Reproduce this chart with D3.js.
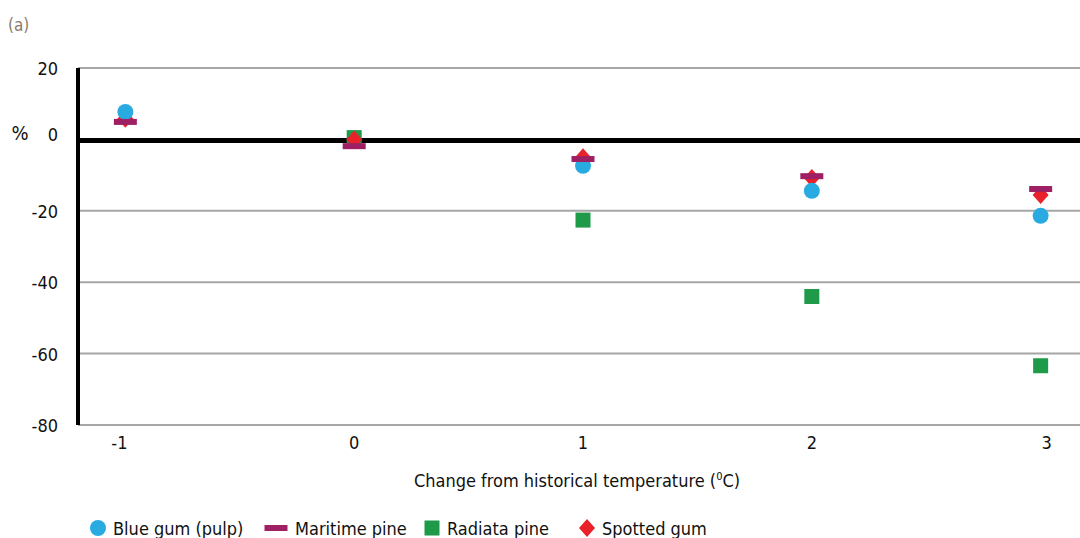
<!DOCTYPE html>
<html>
<head>
<meta charset="utf-8">
<script src="https://cdn.jsdelivr.net/npm/d3@7"></script>
<style>
  body { margin: 0; background: #fff; }
  svg { display: block; }
  text { font-family: "Liberation Sans Narrow", "DejaVu Sans Condensed", sans-serif; }
</style>
</head>
<body>
<svg id="chart" width="1080" height="538"></svg>
<script>
// temperature change steps (degC)
var temps = [-1, 0, 1, 2, 3];
// % change in productivity (null = not shown)
var blueGum = [7.7, null, -7.4, -14.4, -21.4];
var maritimePine = [4.9, -1.9, -5.5, -10.3, -13.9];
var radiataPine = [null, 0.5, -22.6, -44, -63.4];
var spottedGum = [5.8, 0, -5, -10.8, -15.6];
var yTicks = [20, 0, -20, -40, -60, -80];

var series = [
    { name: "Radiata pine", values: radiataPine, color: "#1f9a48", shape: "square" },
    { name: "Spotted gum", values: spottedGum, color: "#e8212b", shape: "diamond" },
    { name: "Blue gum (pulp)", values: blueGum, color: "#29abe2", shape: "circle" },
    { name: "Maritime pine", values: maritimePine, color: "#9e1f63", shape: "dash" }
];
var legendOrder = ["Blue gum (pulp)", "Maritime pine", "Radiata pine", "Spotted gum"];

var svg = d3.select("#chart");
var plotLeft = 78, plotRight = 1080, plotTop = 68, plotBottom = 425;

var x = d3.scaleLinear().domain([-1.207, 3.172]).range([plotLeft, plotRight]);
var y = d3.scaleLinear().domain([-80, 20]).range([plotBottom, plotTop]);

// grid lines
svg.append("g")
    .selectAll("line")
    .data(yTicks)
    .enter().append("line")
    .attr("x1", plotLeft).attr("x2", plotRight)
    .attr("y1", function (d) { return y(d); })
    .attr("y2", function (d) { return y(d); })
    .attr("stroke", "#a6a6a6")
    .attr("stroke-width", 2);

// zero line
svg.append("line")
    .attr("x1", plotLeft).attr("x2", plotRight)
    .attr("y1", y(0) + 1).attr("y2", y(0) + 1)
    .attr("stroke", "#000")
    .attr("stroke-width", 5);

// y axis line
svg.append("line")
    .attr("x1", plotLeft).attr("x2", plotLeft)
    .attr("y1", plotTop).attr("y2", plotBottom)
    .attr("stroke", "#000")
    .attr("stroke-width", 4);

// y tick labels
svg.append("g")
    .selectAll("text")
    .data(yTicks)
    .enter().append("text")
    .attr("x", 58)
    .attr("y", function (d) { return y(d) + (d === 0 ? 2 : 7); })
    .attr("text-anchor", "end")
    .attr("font-size", 18)
    .attr("fill", "#111")
    .text(function (d) { return d; });

// x tick labels
svg.append("g")
    .selectAll("text")
    .data(temps)
    .enter().append("text")
    .attr("x", function (d) { return x(d) + (d === 3 ? 6 : d === -1 ? -6 : 0); })
    .attr("y", 449)
    .attr("text-anchor", "middle")
    .attr("font-size", 18)
    .attr("fill", "#111")
    .text(function (d) { return d; });

svg.append("text")
    .attr("x", 20).attr("y", 140)
    .attr("text-anchor", "middle")
    .attr("font-size", 20)
    .attr("fill", "#111")
    .text("%");

svg.append("text")
    .attr("x", 8).attr("y", 31)
    .attr("font-size", 17)
    .attr("fill", "#8b7b6b")
    .text("(a)");

var xTitle = svg.append("text")
    .attr("x", 577).attr("y", 487)
    .attr("text-anchor", "middle")
    .attr("font-size", 18)
    .attr("fill", "#111");
xTitle.append("tspan").text("Change from historical temperature (");
xTitle.append("tspan").attr("font-size", 11).attr("dy", -7).text("0");
xTitle.append("tspan").attr("dy", 7).text("C)");

function drawMarker(g, shape, color) {
    if (shape === "circle") {
        g.append("circle").attr("r", 8).attr("fill", color);
    } else if (shape === "dash") {
        g.append("rect").attr("x", -11.5).attr("y", -3).attr("width", 23).attr("height", 6).attr("fill", color);
    } else if (shape === "square") {
        g.append("rect").attr("x", -7.5).attr("y", -7.5).attr("width", 15).attr("height", 15).attr("fill", color);
    } else {
        g.append("path").attr("d", "M0,-9L8,0L0,9L-8,0Z").attr("fill", color);
    }
}

series.forEach(function (s) {
    var pts = temps.map(function (t, i) { return { t: t, v: s.values[i] }; })
        .filter(function (p) { return p.v !== null; });
    svg.append("g")
        .selectAll("g")
        .data(pts)
        .enter().append("g")
        .attr("transform", function (p) { return "translate(" + x(p.t) + "," + y(p.v) + ")"; })
        .each(function () { drawMarker(d3.select(this), s.shape, s.color); });
});

// legend
var legendX = [98, 276, 432, 587];
legendOrder.forEach(function (name, i) {
    var s = series.find(function (d) { return d.name === name; });
    var g = svg.append("g").attr("transform", "translate(" + legendX[i] + ",528)");
    drawMarker(g, s.shape, s.color);
    g.append("text")
        .attr("x", s.shape === "dash" ? 19 : 15)
        .attr("y", 7)
        .attr("font-size", 18)
        .attr("fill", "#111")
        .text(name);
});
</script>
</body>
</html>
